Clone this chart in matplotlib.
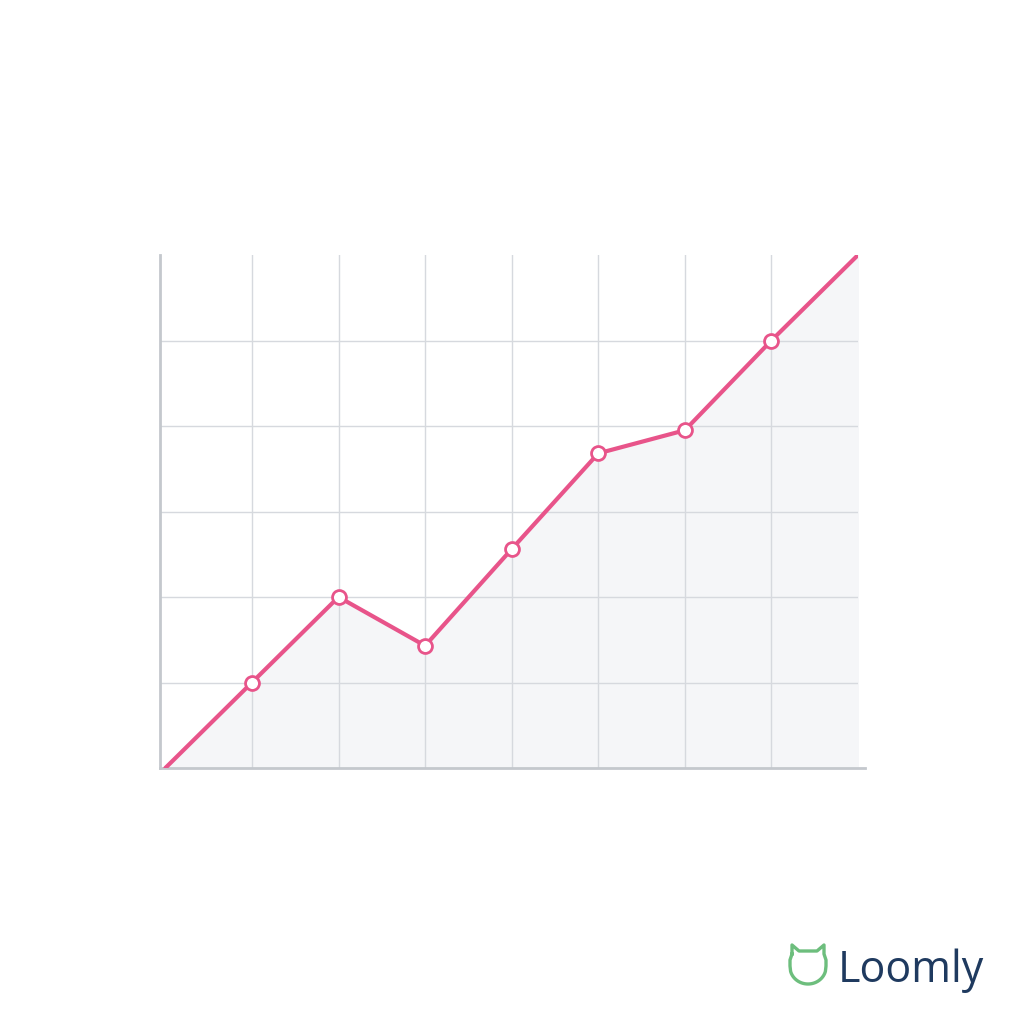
import matplotlib
matplotlib.use("Agg")
import matplotlib.pyplot as plt
import numpy as np

# ================= DATA =================
steps = [0, 1, 2, 3, 4, 5, 6, 7, 8]
values = [0, 1.0, 2.0, 1.43, 2.56, 3.68, 3.95, 5.0, 6.0]
marked = [1, 2, 3, 4, 5, 6, 7]   # points drawn with open circle markers

LINE = "#E8548A"
FILL = "#F5F6F8"
GRID = "#D6D9DE"
SPINE = "#C4C8CD"

# ================= PLOT =================
fig = plt.figure(figsize=(10.24, 10.24), dpi=100)
fig.patch.set_facecolor("white")

# axes ends at the last data point; bottom spine is stretched a bit further
ax = fig.add_axes([160 / 1024, 1 - 768 / 1024, 698 / 1024, 513 / 1024])
ax.set_xlim(-0.062, 8.0)
ax.set_ylim(0, 6)

ax.fill_between(steps, values, 0, color=FILL, zorder=1)
ax.plot(steps, values, color=LINE, lw=3, zorder=3, solid_capstyle="round")
ax.plot([steps[i] for i in marked], [values[i] for i in marked],
        ls="none", marker="o", ms=10, mfc="white", mec=LINE, mew=2, zorder=4)

ax.set_xticks(range(1, 8))
ax.set_yticks(range(1, 6))
ax.grid(True, color=GRID, lw=1, zorder=0)
ax.tick_params(length=0, labelbottom=False, labelleft=False)

for side in ["top", "right"]:
    ax.spines[side].set_visible(False)
for side in ["left", "bottom"]:
    ax.spines[side].set_color(SPINE)
    ax.spines[side].set_linewidth(2)
ax.spines["bottom"].set_bounds(-0.062, 8.08)

# ================= LOGO =================
# little cat-head outline
logo = fig.add_axes([786 / 1024, 1 - 990 / 1024, 44 / 1024, 48 / 1024])
logo.set_xlim(0, 44)
logo.set_ylim(0, 48)
logo.axis("off")
ang = np.linspace(np.deg2rad(15), np.deg2rad(165), 40)
cx = [6, 6, 13, 22, 31, 38, 38, 40, 40] + list(22 + 18 * np.cos(-ang)) + [4, 4, 6]
cy = [36, 45, 39, 39, 39, 45, 36, 30, 24] + list(23 + 17 * np.sin(-ang)) + [24, 30, 36]
logo.plot(cx, cy, color="#6DBE7D", lw=2.4, solid_joinstyle="round")

fig.text(838 / 1024, 1 - 982 / 1024, "Loomly", fontsize=31, color="#1F3A5F",
         family=["Open Sans", "DejaVu Sans"], ha="left", va="baseline")

fig.savefig("out.png", dpi=100, facecolor="white")
